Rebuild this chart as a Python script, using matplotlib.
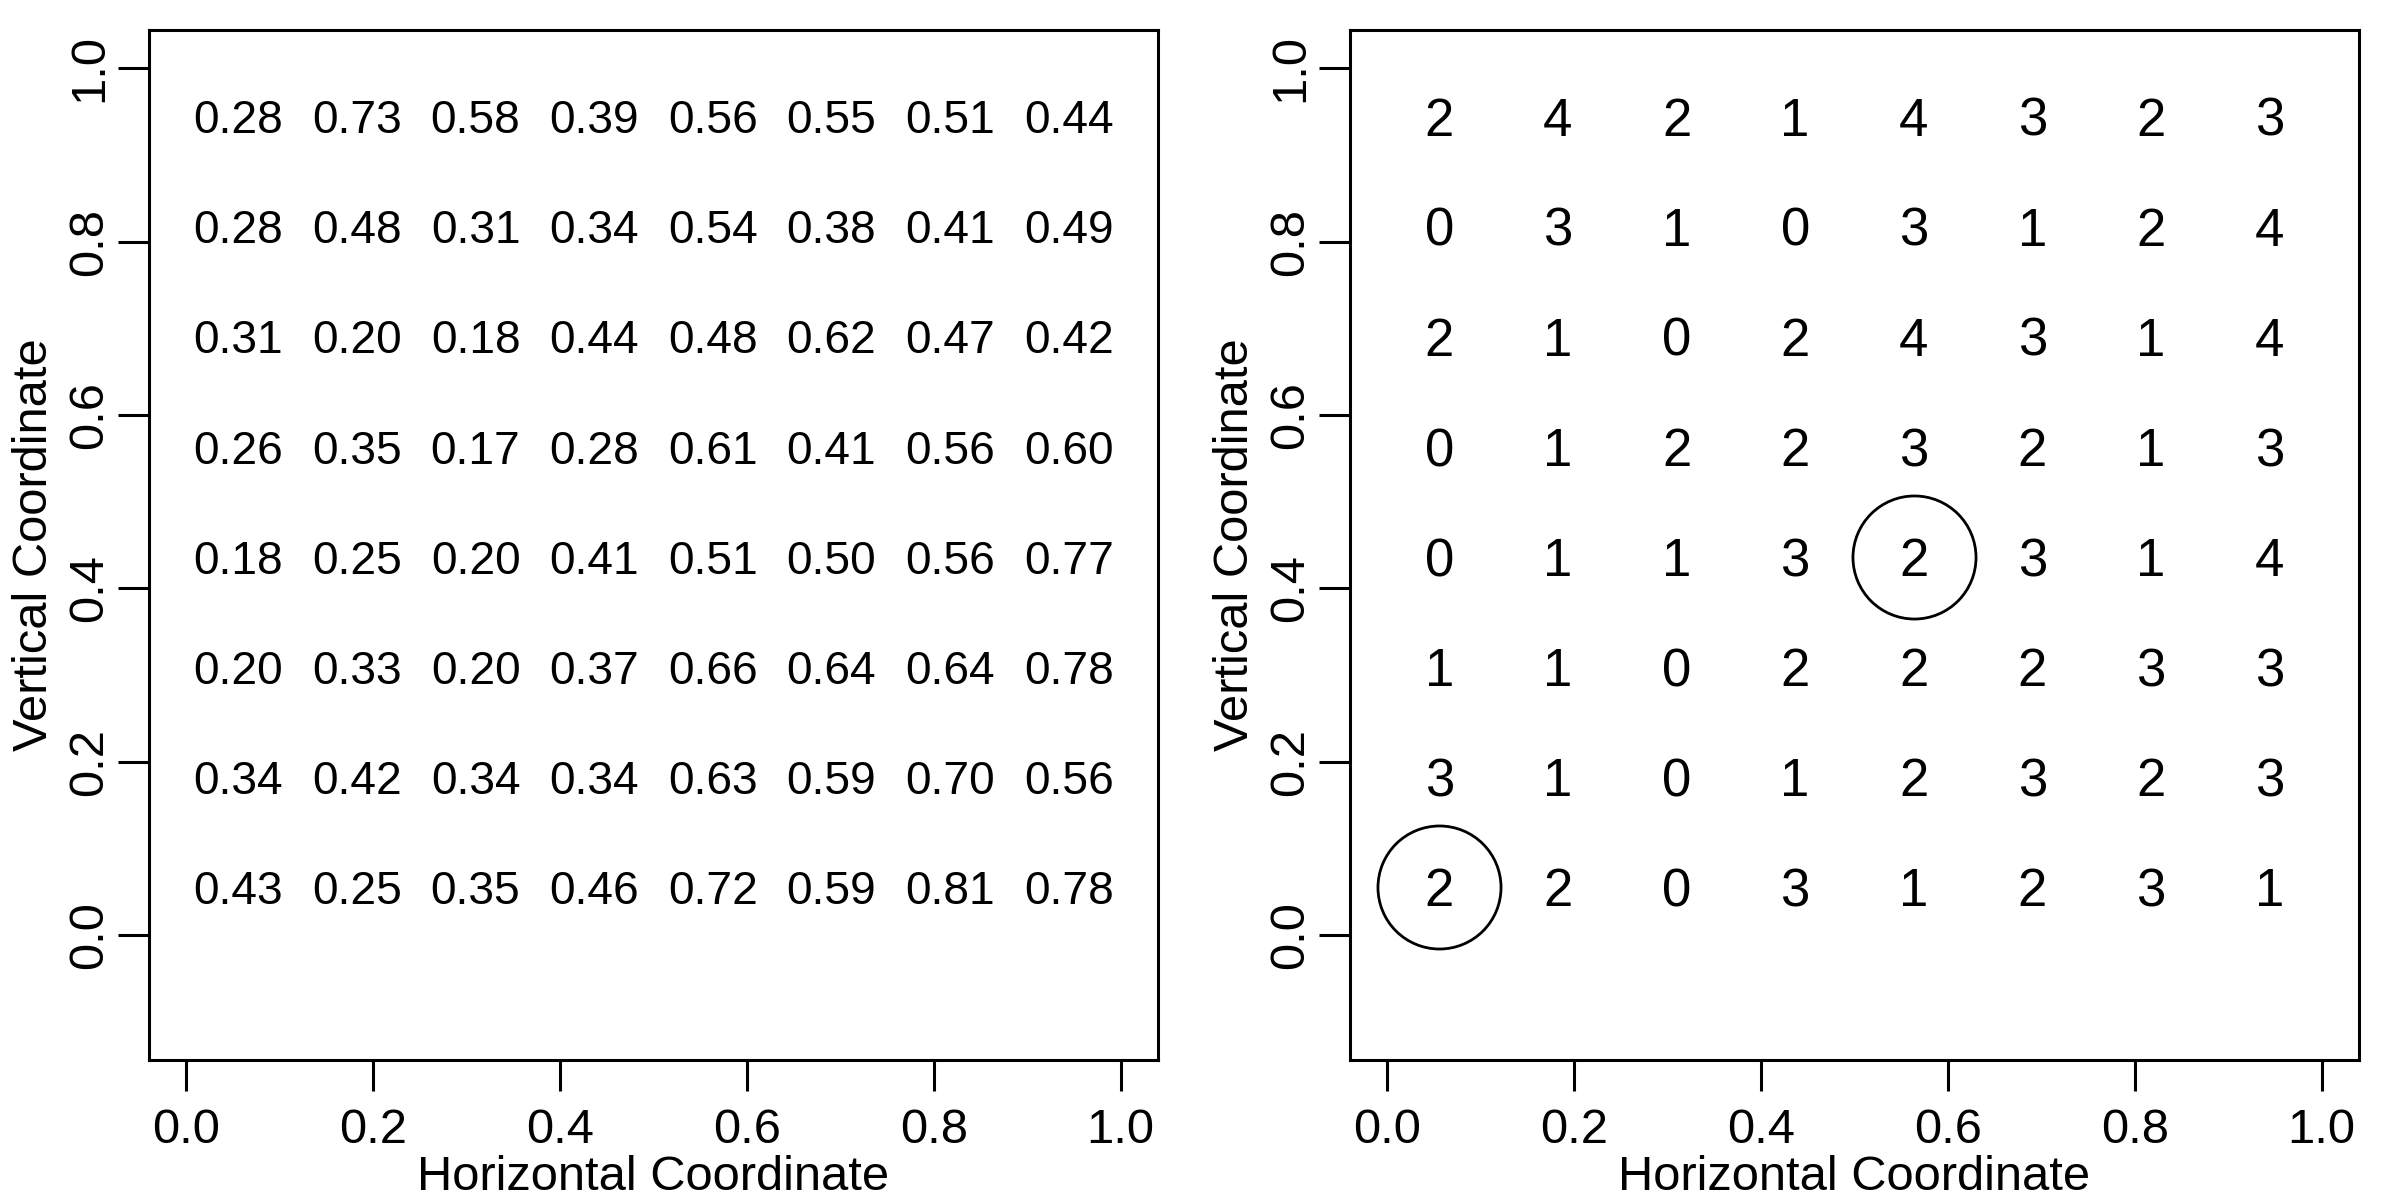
"""Two grid panels: cell values (left) and cell counts with highlighted cells (right)."""

import matplotlib

matplotlib.use("Agg")
import matplotlib.pyplot as plt
import numpy as np

plt.rcParams["font.family"] = ["Liberation Sans", "DejaVu Sans"]

# rows listed top to bottom, columns left to right
CELL_VALUES = [
    [0.28, 0.73, 0.58, 0.39, 0.56, 0.55, 0.51, 0.44],
    [0.28, 0.48, 0.31, 0.34, 0.54, 0.38, 0.41, 0.49],
    [0.31, 0.20, 0.18, 0.44, 0.48, 0.62, 0.47, 0.42],
    [0.26, 0.35, 0.17, 0.28, 0.61, 0.41, 0.56, 0.60],
    [0.18, 0.25, 0.20, 0.41, 0.51, 0.50, 0.56, 0.77],
    [0.20, 0.33, 0.20, 0.37, 0.66, 0.64, 0.64, 0.78],
    [0.34, 0.42, 0.34, 0.34, 0.63, 0.59, 0.70, 0.56],
    [0.43, 0.25, 0.35, 0.46, 0.72, 0.59, 0.81, 0.78],
]
CELL_COUNTS = [
    [2, 4, 2, 1, 4, 3, 2, 3],
    [0, 3, 1, 0, 3, 1, 2, 4],
    [2, 1, 0, 2, 4, 3, 1, 4],
    [0, 1, 2, 2, 3, 2, 1, 3],
    [0, 1, 1, 3, 2, 3, 1, 4],
    [1, 1, 0, 2, 2, 2, 3, 3],
    [3, 1, 0, 1, 2, 3, 2, 3],
    [2, 2, 0, 3, 1, 2, 3, 1],
]
# (row from top, column from left)
HIGHLIGHTED = [(7, 0), (4, 4)]

TICKS = [0.0, 0.2, 0.4, 0.6, 0.8, 1.0]
TICK_LABELS = ["0.0", "0.2", "0.4", "0.6", "0.8", "1.0"]
XLABEL = "Horizontal Coordinate"
YLABEL = "Vertical Coordinate"

N = len(CELL_VALUES)
centers = np.linspace(1 / 18, 17 / 18, N)

LW = 1.1
FS = 17.6


def style_axes(ax):
    ax.set_xlim(-0.04, 1.04)
    ax.set_ylim(-0.144, 1.044)
    for sp in ax.spines.values():
        sp.set_linewidth(LW)
    ax.set_xticks(TICKS, TICK_LABELS)
    ax.set_yticks(TICKS, TICK_LABELS)
    ax.tick_params(axis="both", length=11.2, width=LW, labelsize=FS)
    ax.tick_params(axis="x", pad=6.0)
    ax.tick_params(axis="y", pad=2.2)
    for lab in ax.get_yticklabels():
        lab.set_rotation(90)
        lab.set_va("center")
    ax.set_xlabel(XLABEL, fontsize=FS, va="baseline")
    # kept just inside the bottom edge
    ax.xaxis.set_label_coords(0.5, -0.126)
    ax.set_ylabel(YLABEL, fontsize=FS, va="baseline", ha="center", rotation_mode="anchor")
    ax.yaxis.set_label_coords(-0.101, 0.5)


fig = plt.figure(figsize=(12, 6), dpi=200)
ax1 = fig.add_axes([0.0621, 0.1167, 0.4204, 0.8583])
ax2 = fig.add_axes([0.5625, 0.1167, 0.4204, 0.8583])

for r in range(N):
    y = centers[N - 1 - r]
    for c in range(N):
        x = centers[c]
        ax1.text(x, y, f"{CELL_VALUES[r][c]:.2f}", ha="center", va="center_baseline", fontsize=16.6)
        ax2.text(x, y, str(CELL_COUNTS[r][c]), ha="center", va="center_baseline", fontsize=19)

for r, c in HIGHLIGHTED:
    ax2.plot(centers[c], centers[N - 1 - r], marker="o", markersize=44.3, markerfacecolor="none",
             markeredgecolor="black", markeredgewidth=1.0, linestyle="none")

style_axes(ax1)
style_axes(ax2)

fig.savefig("out.png", dpi=200)
